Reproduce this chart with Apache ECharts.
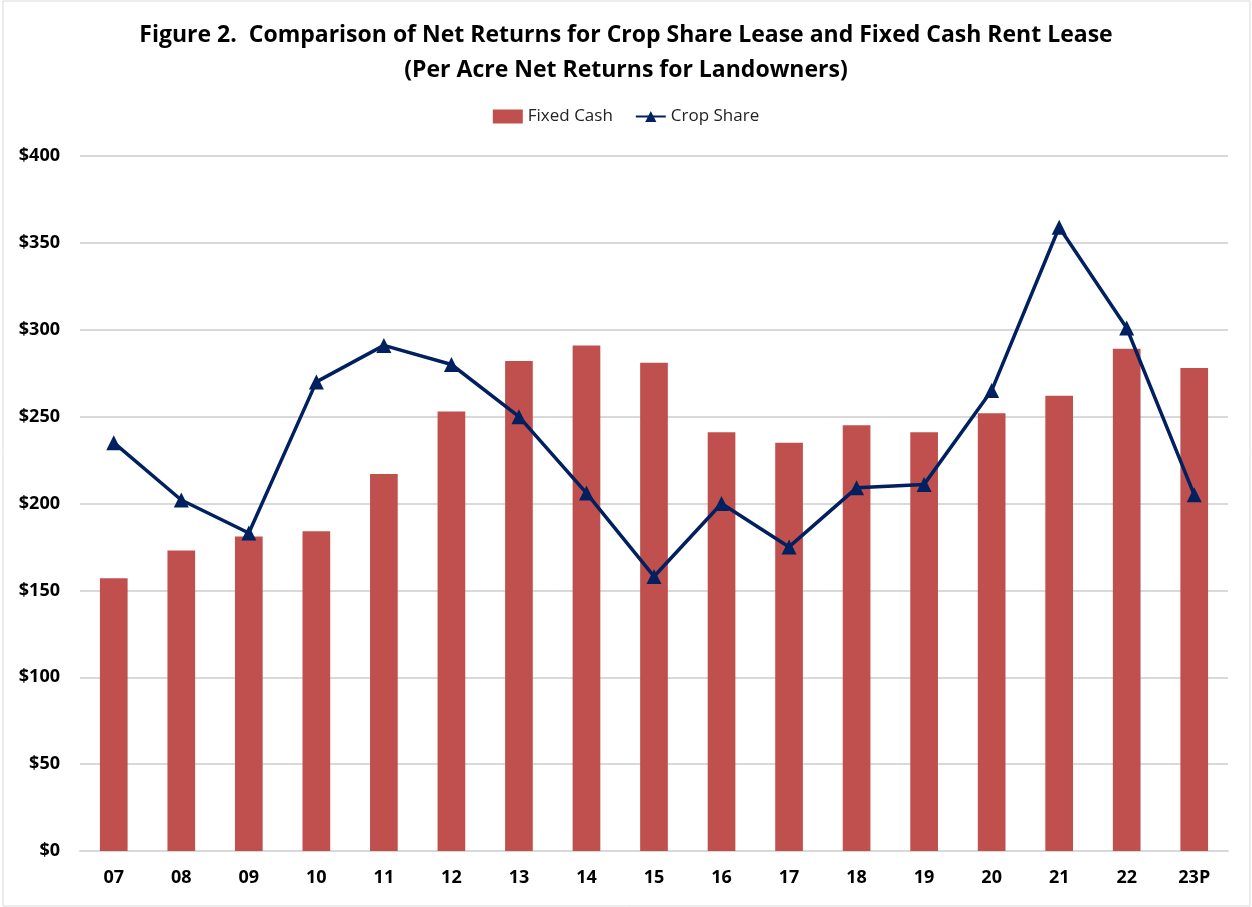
<!DOCTYPE html>
<html>
<head>
<meta charset="utf-8">
<script src="https://cdn.jsdelivr.net/npm/echarts@6/dist/echarts.min.js"></script>
<style>
html,body{margin:0;padding:0;background:#fff;}
#c{width:1252px;height:907px;}
</style>
</head>
<body>
<div id="c"></div>
<script>
const categories = ['07','08','09','10','11','12','13','14','15','16','17','18','19','20','21','22','23P'];
const fixedCash = [157,173,181,184,217,253,282,291,281,241,235,245,241,252,262,289,278];
const cropShare = [235,202,183,270,291,280,250,206,158,200,175,209,211,265,359,301,205];
const yTicks = {min:0, max:400, interval:50};

const FONT = '"Open Sans",sans-serif';
const chart = echarts.init(document.getElementById('c'));
chart.setOption({
  backgroundColor:'#fff',
  animation:false,
  textStyle:{fontFamily:FONT},
  graphic:[{type:'rect',shape:{x:3,y:1,width:1247,height:905},style:{fill:'none',stroke:'#d9d9d9',lineWidth:1}}],
  title:{
    text:'Figure 2.  Comparison of Net Returns for Crop Share Lease and Fixed Cash Rent Lease\n(Per Acre Net Returns for Landowners)',
    left:'center', top:13,
    textStyle:{fontFamily:FONT,fontWeight:'bold',fontSize:23,color:'#000',lineHeight:35}
  },
  legend:{
    top:103, left:'center', itemGap:22,
    textStyle:{fontFamily:FONT,fontSize:17,color:'#222'},
    data:[
      {name:'Fixed Cash',icon:'rect',itemStyle:{color:'#C0504D'}},
      {name:'Crop Share'}
    ],
    itemWidth:30,itemHeight:14
  },
  grid:{left:80,right:24,top:156,bottom:56,containLabel:false},
  xAxis:{
    type:'category',data:categories,
    axisLine:{lineStyle:{color:'#d9d9d9',width:2}},
    axisTick:{show:false},
    axisLabel:{margin:18,fontFamily:FONT,fontWeight:'bold',fontSize:18,color:'#000'}
  },
  yAxis:{
    type:'value',min:yTicks.min,max:yTicks.max,interval:yTicks.interval,
    axisLine:{show:false},axisTick:{show:false},
    splitLine:{lineStyle:{color:'#d9d9d9',width:2}},
    axisLabel:{margin:20,fontFamily:FONT,fontWeight:'bold',fontSize:18,color:'#000',formatter:v=>'$'+v}
  },
  series:[
    {name:'Fixed Cash',type:'bar',data:fixedCash,barWidth:'41%',
     itemStyle:{color:'#C0504D'}},
    {name:'Crop Share',type:'line',data:cropShare,symbol:'triangle',symbolSize:15,
     lineStyle:{color:'#002060',width:3.5},itemStyle:{color:'#002060'}}
  ]
});
</script>
</body>
</html>
